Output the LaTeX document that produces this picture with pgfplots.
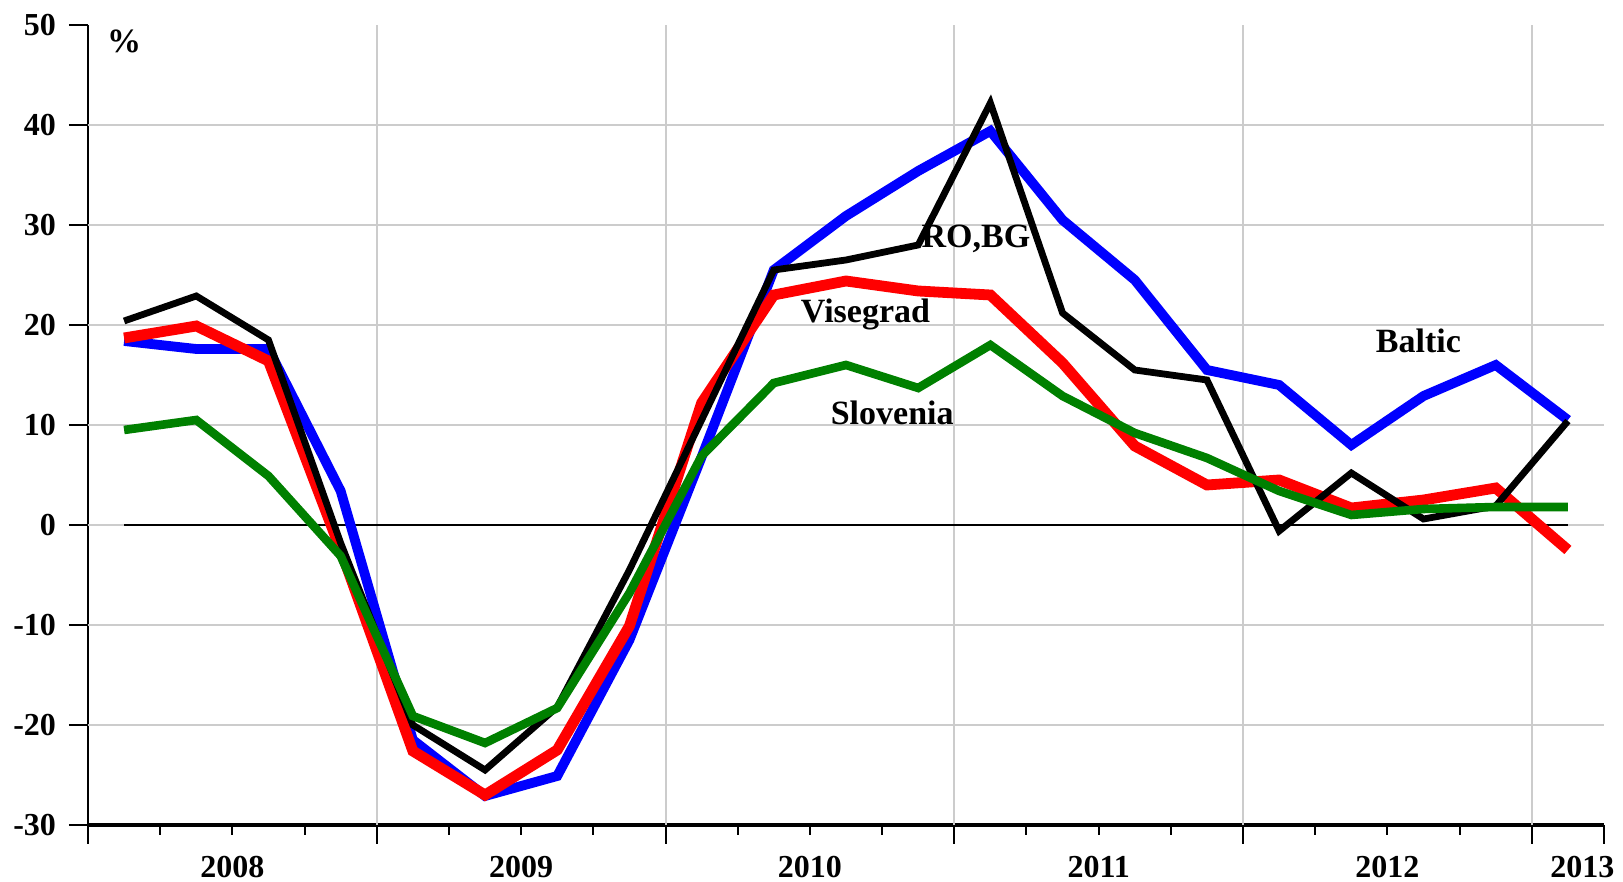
\documentclass[border=0pt]{standalone}
\usepackage{fontspec}
\setmainfont{Liberation Serif}
\usepackage{pgfplots}
\pgfplotsset{compat=1.18}
\usetikzlibrary{calc}

\definecolor{gridgray}{RGB}{204,204,204}
\definecolor{sgreen}{RGB}{0,128,0}

\newcommand{\lbl}{\fontsize{16}{16}\selectfont\bfseries}

\begin{document}
\begin{tikzpicture}
\begin{axis}[
    scale only axis,
    width=758pt, height=400pt,
    xmin=0, xmax=21, ymin=-30, ymax=50,
    axis x line*=bottom, axis y line*=left,
    x axis line style={line width=2.2pt, -},
    y axis line style={line width=1.3pt, -},
    tick align=outside,
    xtick={0,4,8,12,16,20,21}, xticklabels={},
    minor xtick={1,2,3,5,6,7,9,10,11,13,14,15,17,18,19},
    ytick={-30,-20,-10,0,10,20,30,40,50},
    yticklabels={-30,-20,-10,0,10,20,30,40,50},
    major tick length=9.5pt, minor tick length=5pt,
    tick style={black, line width=1pt},
    yticklabel style={font=\lbl, xshift=-3pt},
    clip=false,
]

%% grid (no line on the top edge or at the right end)
\draw[gridgray, line width=1pt] (axis cs:0,-20) -- (axis cs:21,-20);
\draw[gridgray, line width=1pt] (axis cs:0,-10) -- (axis cs:21,-10);
\draw[gridgray, line width=1pt] (axis cs:0,0) -- (axis cs:21,0);
\draw[gridgray, line width=1pt] (axis cs:0,10) -- (axis cs:21,10);
\draw[gridgray, line width=1pt] (axis cs:0,20) -- (axis cs:21,20);
\draw[gridgray, line width=1pt] (axis cs:0,30) -- (axis cs:21,30);
\draw[gridgray, line width=1pt] (axis cs:0,40) -- (axis cs:21,40);
\draw[gridgray, line width=1pt] (axis cs:4,-30) -- (axis cs:4,50);
\draw[gridgray, line width=1pt] (axis cs:8,-30) -- (axis cs:8,50);
\draw[gridgray, line width=1pt] (axis cs:12,-30) -- (axis cs:12,50);
\draw[gridgray, line width=1pt] (axis cs:16,-30) -- (axis cs:16,50);
\draw[gridgray, line width=1pt] (axis cs:20,-30) -- (axis cs:20,50);

%% zero line under the data
\draw[black, line width=0.8pt] (axis cs:0.5,0) -- (axis cs:20.5,0);

%% Baltic
\addplot[blue, line width=4.9pt, line join=miter] coordinates {
    (0.5,18.4)(1.5,17.6)(2.5,17.6)(3.5,3.4)(4.5,-21.5)(5.5,-27.1)
    (6.5,-25.1)(7.5,-11.5)(8.5,6.8)(9.5,25.5)(10.5,30.9)(11.5,35.4)
    (12.5,39.4)(13.5,30.5)(14.5,24.5)(15.5,15.5)(16.5,14.0)(17.5,8.0)
    (18.5,12.9)(19.5,16.0)(20.5,10.5)
};
%% Visegrad
\addplot[red, line width=5.4pt, line join=miter] coordinates {
    (0.5,18.7)(1.5,19.9)(2.5,16.4)(3.5,-2.5)(4.5,-22.6)(5.5,-27.0)
    (6.5,-22.5)(7.5,-10.1)(8.5,12.2)(9.5,23.0)(10.5,24.4)(11.5,23.4)
    (12.5,23.0)(13.5,16.2)(14.5,7.9)(15.5,4.0)(16.5,4.5)(17.5,1.7)
    (18.5,2.5)(19.5,3.7)(20.5,-2.5)
};
%% RO,BG
\addplot[black, line width=3.4pt, line join=miter] coordinates {
    (0.5,20.4)(1.5,22.9)(2.5,18.5)(3.5,-1.8)(4.5,-20.0)(5.5,-24.5)
    (6.5,-18.2)(7.5,-4.5)(8.5,10.5)(9.5,25.5)(10.5,26.5)(11.5,28.0)
    (12.5,42.2)(13.5,21.2)(14.5,15.5)(15.5,14.5)(16.5,-0.6)(17.5,5.2)
    (18.5,0.6)(19.5,1.9)(20.5,10.4)
};
%% Slovenia
\addplot[sgreen, line width=4.3pt, line join=miter] coordinates {
    (0.5,9.5)(1.5,10.5)(2.5,4.9)(3.5,-3.1)(4.5,-19.1)(5.5,-21.8)
    (6.5,-18.3)(7.5,-6.8)(8.5,6.9)(9.5,14.2)(10.5,16.0)(11.5,13.7)
    (12.5,18.0)(13.5,12.9)(14.5,9.2)(15.5,6.7)(16.5,3.4)(17.5,1.0)
    (18.5,1.6)(19.5,1.8)(20.5,1.8)
};

%% series names
\node[anchor=base, font=\fontsize{17}{17}\selectfont\bfseries] at (axis cs:12.3,27.7) {RO,BG};
\node[anchor=base, font=\fontsize{17}{17}\selectfont\bfseries] at (axis cs:10.77,20.2) {Visegrad};
\node[anchor=base, font=\fontsize{17}{17}\selectfont\bfseries] at (axis cs:11.14,10.0) {Slovenia};
\node[anchor=base, font=\fontsize{17}{17}\selectfont\bfseries] at (axis cs:18.43,17.2) {Baltic};
\node[anchor=base, font=\fontsize{17}{17}\selectfont\bfseries] at (axis cs:0.5,47.2) {\%};

%% year labels, centred in each year
\node[font=\lbl, inner sep=1pt, yshift=-21pt] at (axis cs:2,-30) {2008};
\node[font=\lbl, inner sep=1pt, yshift=-21pt] at (axis cs:6,-30) {2009};
\node[font=\lbl, inner sep=1pt, yshift=-21pt] at (axis cs:10,-30) {2010};
\node[font=\lbl, inner sep=1pt, yshift=-21pt] at (axis cs:14,-30) {2011};
\node[font=\lbl, inner sep=1pt, yshift=-21pt] at (axis cs:18,-30) {2012};
\node[font=\lbl, inner sep=1pt, yshift=-21pt] at (axis cs:20.7,-30) {2013};

\end{axis}
\pgfresetboundingbox
\path ($(current axis.south west)+(-44pt,-28.5pt)$) rectangle ($(current axis.north east)+(9.5pt,12.5pt)$);
\end{tikzpicture}
\end{document}
